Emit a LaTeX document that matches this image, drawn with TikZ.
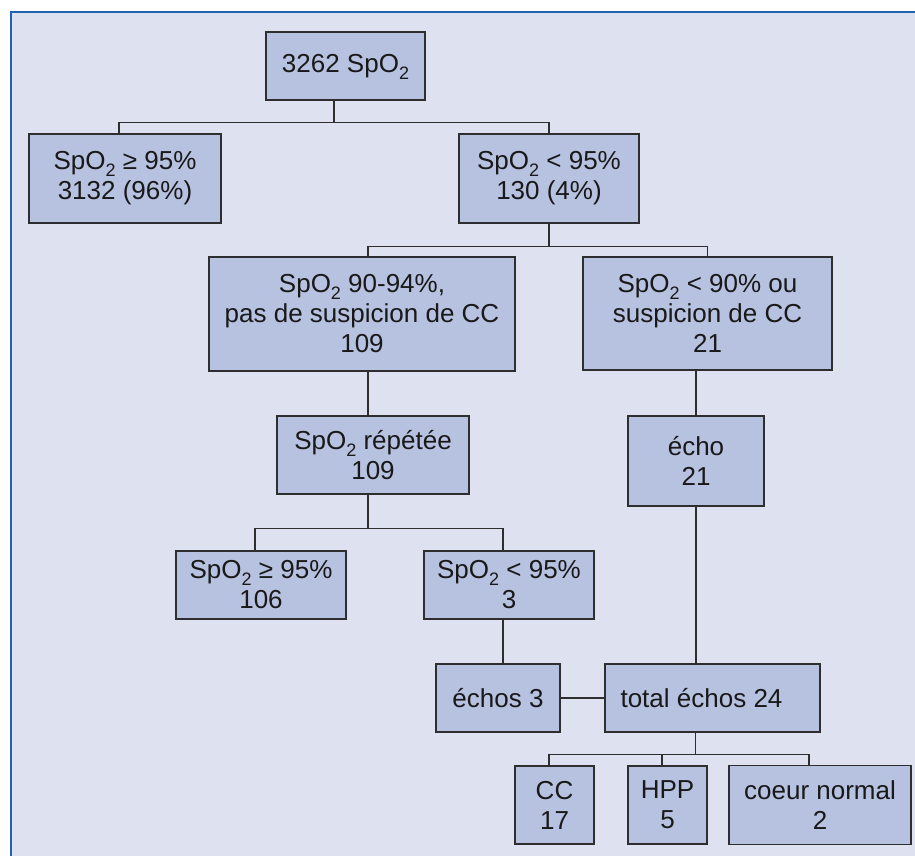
\documentclass[tikz,border=0pt]{standalone}
\usepackage{fontspec}
\setmainfont{Liberation Sans}
\definecolor{bgc}{HTML}{DDE1F0}
\definecolor{boxc}{HTML}{B7C1E0}
\definecolor{framec}{HTML}{1F64AE}
\definecolor{linec}{HTML}{2E2E2E}
\newcommand{\spo}{SpO\raisebox{-7pt}[0pt][0pt]{\fontsize{18}{18}\selectfont 2}}
\begin{document}
\begin{tikzpicture}[x=1pt,y=-1pt,
  box/.style={draw=linec, line width=1.3pt, fill=boxc, align=center, inner sep=0pt,
    font=\fontsize{26}{30}\selectfont, text=black!90},
  conn/.style={draw=linec, line width=1.2pt}]
\useasboundingbox (0,0) rectangle (915,856);
\fill[bgc] (11,12) rectangle (915,856);
\draw[framec, line width=2pt] (11,856) -- (11,12) -- (915,12);

\node[box, minimum width=159pt, minimum height=68pt] (top) at (345.5,66) {3262 \spo};
\node[box, minimum width=192pt, minimum height=89pt] (l1) at (125,178.5) {\spo\ ≥ 95\%\\ 3132 (96\%)};
\node[box, minimum width=180pt, minimum height=89pt] (r1) at (549,178.5) {\spo\ < 95\%\\130 (4\%)};
\node[box, minimum width=306pt, minimum height=114pt] (l2) at (362,314) {\spo\ 90-94\%,\\pas de suspicion de CC\\109};
\node[box, minimum width=249pt, minimum height=113pt] (r2) at (707.5,313.5) {\spo\ < 90\% ou\\suspicion de CC\\21};
\node[box, minimum width=192pt, minimum height=78pt] (rep) at (373,455) {\spo\ répétée\\109};
\node[box, minimum width=136pt, minimum height=90pt] (echo) at (696,461) {écho\\21};
\node[box, minimum width=170pt, minimum height=68pt] (a106) at (261,585) {\spo\ ≥ 95\%\\106};
\node[box, minimum width=170pt, minimum height=68pt] (a3) at (509,585) {\spo\ < 95\%\\3};
\node[box, minimum width=124pt, minimum height=68pt] (e3) at (498,698) {échos 3};
\node[box, minimum width=215pt, minimum height=68pt] (tot) at (712.5,698) {total échos 24\hspace*{22pt}};
\node[box, minimum width=79pt, minimum height=78pt] (cc) at (554.5,805) {CC\\17};
\node[box, minimum width=79pt, minimum height=78pt] (hpp) at (667.5,805) {HPP\\5};
\node[box, minimum width=182pt, minimum height=79pt] (cn) at (820,805) {coeur normal\\2};

% top level
\draw[conn] ([xshift=-11.5pt]top.south) -- ++(0,22) coordinate (b1);
\draw[conn] (b1) -| ([xshift=-6pt]l1.north);
\draw[conn] (b1) -| (r1.north);
% second level
\draw[conn] (r1.south) -- ++(0,23) coordinate (b2);
\draw[conn] (b2) -| ([xshift=6pt]l2.north);
\draw[conn] (b2) -| (r2.north);
% left column
\draw[conn] ([xshift=6pt]l2.south) -- ([xshift=-5pt]rep.north);
\draw[conn] ([xshift=-5pt]rep.south) -- ++(0,34) coordinate (b3);
\draw[conn] (b3) -| ([xshift=-6pt]a106.north);
\draw[conn] (b3) -| ([xshift=-6pt]a3.north);
\draw[conn] ([xshift=-6pt]a3.south) -- ([xshift=5pt]e3.north);
% right column
\draw[conn] ([xshift=-11.5pt]r2.south) -- (echo.north);
\draw[conn] (echo.south) -- ([xshift=-16.5pt]tot.north);
\draw[conn] (e3.east) -- (tot.west);
% bottom
\draw[conn] ([xshift=-17pt]tot.south) -- ++(0,22) coordinate (b4);
\draw[conn] (b4) -| ([xshift=-5.5pt]cc.north);
\draw[conn] (b4) -| ([xshift=-5.5pt]hpp.north);
\draw[conn] (b4) -| ([xshift=-11pt]cn.north);
\end{tikzpicture}
\end{document}
